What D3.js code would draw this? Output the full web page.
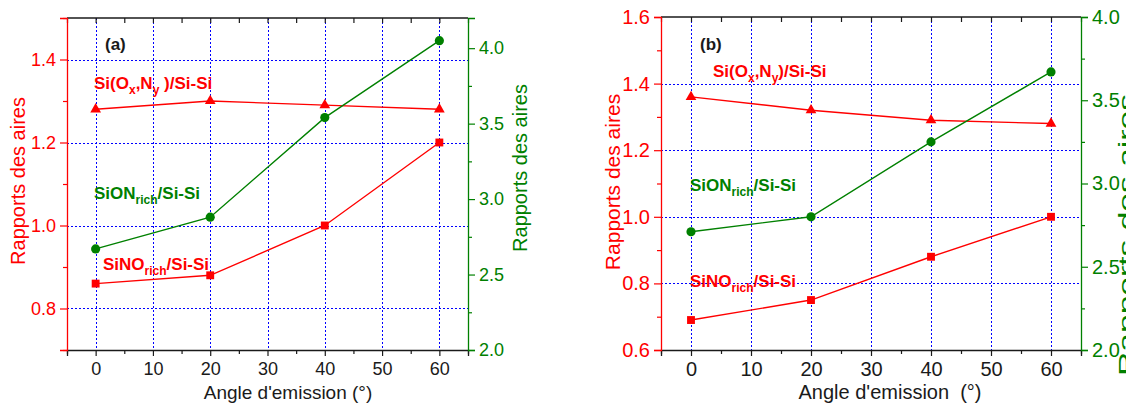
<!DOCTYPE html>
<html><head><meta charset="utf-8">
<script src="https://cdn.jsdelivr.net/npm/d3@7"></script>
<style>
body{margin:0;background:#fff}
svg{display:block;font-family:"Liberation Sans",Arial,Helvetica,sans-serif}
</style>
</head><body>
<svg id="chart" width="1126" height="403"></svg>
<script>
// ---------- data ----------
const angles = [0, 20, 40, 60];
const aSiOxNy   = [1.28, 1.30, 1.29, 1.28];
const aSiNOrich = [0.86, 0.88, 1.00, 1.20];
const aSiONrich = [2.67, 2.88, 3.54, 4.05];
const bSiOxNy   = [1.36, 1.32, 1.29, 1.28];
const bSiNOrich = [0.69, 0.75, 0.88, 1.00];
const bSiONrich = [2.71, 2.80, 3.25, 3.67];
const xTicks = [0, 10, 20, 30, 40, 50, 60];
const xMinor = [-5, 5, 15, 25, 35, 45, 55, 65];
const aLeftTicks  = [0.8, 1.0, 1.2, 1.4];
const aLeftMinor  = [0.7, 0.9, 1.1, 1.3, 1.5];
const aRightTicks = [2.0, 2.5, 3.0, 3.5, 4.0];
const aRightMinor = [2.25, 2.75, 3.25, 3.75];
const bLeftTicks  = [0.6, 0.8, 1.0, 1.2, 1.4, 1.6];
const bLeftMinor  = [0.7, 0.9, 1.1, 1.3, 1.5];
const bRightTicks = [2.0, 2.5, 3.0, 3.5, 4.0];
const bRightMinor = [2.25, 2.75, 3.25, 3.75];

const RED = "#ff0000", GREEN = "#008000", BLUE = "#0000ff", BLACK = "#1a1a1a";
const svg = d3.select("#chart");

const panels = [
  { left: 67, right: 468, top: 18, bottom: 350,
    xDom: [-5, 65], yLDom: [0.7, 1.5], yRDom: [2.0, 4.2],
    lTicks: aLeftTicks, lMinor: aLeftMinor, rTicks: aRightTicks, rMinor: aRightMinor,
    tri: aSiOxNy, sq: aSiNOrich, circ: aSiONrich,
    tickFont: 18, titleFont: 19, yTitleFont: 20,
    xTitle: "Angle d'emission (°)", xTitleX: 288, xTitleY: 399,
    lTitleX: 25, lTitleY: 181, rTitleX: 527, rTitleY: 168, rTitleFont: 20, rTitleLen: null,
    tag: "(a)", tagX: 105, tagY: 50,
    lab1: {x: 94, y: 89, parts: [["Si(O",0],["x",1],[",N",0],["y",1],[" )/Si-Si",0]], c: RED},
    lab2: {x: 94, y: 199, parts: [["SiON",0],["rich",1],["/Si-Si",0]], c: GREEN},
    lab3: {x: 103, y: 270, parts: [["SiNO",0],["rich",1],["/Si-Si",0]], c: RED}
  },
  { left: 661, right: 1081, top: 17, bottom: 350,
    xDom: [-5, 65], yLDom: [0.6, 1.6], yRDom: [2.0, 4.0],
    lTicks: bLeftTicks, lMinor: bLeftMinor, rTicks: bRightTicks, rMinor: bRightMinor,
    tri: bSiOxNy, sq: bSiNOrich, circ: bSiONrich,
    tickFont: 20, titleFont: 20, yTitleFont: 21,
    xTitle: "Angle d'emission  (°)", xTitleX: 890, xTitleY: 399,
    lTitleX: 620, lTitleY: 182, rTitleX: 1134, rTitleY: 235, rTitleFont: 22, rTitleLen: 282,
    tag: "(b)", tagX: 700, tagY: 50,
    lab1: {x: 713, y: 77, parts: [["Si(O",0],["x",1],[",N",0],["y",1],[")/Si-Si",0]], c: RED},
    lab2: {x: 690, y: 191, parts: [["SiON",0],["rich",1],["/Si-Si",0]], c: GREEN},
    lab3: {x: 690, y: 287, parts: [["SiNO",0],["rich",1],["/Si-Si",0]], c: RED}
  }
];

function styleAxis(g, color, font) {
  g.select(".domain").attr("stroke", color).attr("stroke-width", 1.3);
  g.selectAll(".tick line").attr("stroke", color).attr("stroke-width", 1.2);
  g.selectAll(".tick text").attr("fill", color).style("font-size", font + "px")
    .style("font-family", '"Liberation Sans",Arial,sans-serif');
}

function label(g, L) {
  const t = g.append("text").attr("x", L.x).attr("y", L.y).attr("fill", L.c)
    .style("font-weight", "bold").style("font-size", "17px");
  let sub = false;
  L.parts.forEach(([s, isSub]) => {
    const ts = t.append("tspan").text(s);
    if (isSub && !sub) { ts.attr("dy", 5).style("font-size", "12px"); sub = true; }
    else if (isSub && sub) { ts.style("font-size", "12px"); }
    else if (!isSub && sub) { ts.attr("dy", -5); sub = false; }
  });
}

const px = v => Math.round(v) + 0.5;

panels.forEach(P => {
  const g = svg.append("g");
  const x = d3.scaleLinear().domain(P.xDom).range([P.left, P.right]);
  const yL = d3.scaleLinear().domain(P.yLDom).range([P.bottom, P.top]);
  const yR = d3.scaleLinear().domain(P.yRDom).range([P.bottom, P.top]);

  // grid
  const grid = g.append("g").attr("stroke", BLUE).attr("stroke-width", 1)
    .attr("stroke-dasharray", "2,2");
  grid.selectAll("line.v").data(xTicks).join("line")
    .attr("x1", d => px(x(d))).attr("x2", d => px(x(d))).attr("y1", P.top).attr("y2", P.bottom);
  grid.selectAll("line.h").data(P.lTicks.filter(d => d > P.yLDom[0] && d < P.yLDom[1])).join("line")
    .attr("x1", P.left).attr("x2", P.right).attr("y1", d => px(yL(d))).attr("y2", d => px(yL(d)));

  // bottom axis
  const gb = g.append("g").attr("transform", `translate(0,${P.bottom})`)
    .call(d3.axisBottom(x).tickValues(xTicks).tickSize(6).tickPadding(6).tickFormat(d3.format("d")));
  styleAxis(gb, BLACK, P.tickFont);
  const gbm = g.append("g").attr("transform", `translate(0,${P.bottom})`)
    .call(d3.axisBottom(x).tickValues(xMinor).tickSize(4).tickFormat(""));
  styleAxis(gbm, BLACK, P.tickFont); gbm.select(".domain").remove();

  // top axis (inward ticks)
  const gt = g.append("g").attr("transform", `translate(0,${P.top})`)
    .call(d3.axisBottom(x).tickValues(xTicks.concat(xMinor)).tickSize(5).tickFormat(""));
  styleAxis(gt, BLACK, P.tickFont);
  gt.select(".domain").attr("d", `M${P.left},0H${P.right}`);

  // left axis
  const gl = g.append("g").attr("transform", `translate(${P.left},0)`)
    .call(d3.axisLeft(yL).tickValues(P.lTicks).tickSize(7).tickPadding(4).tickFormat(d3.format(".1f")));
  styleAxis(gl, RED, P.tickFont);
  const glm = g.append("g").attr("transform", `translate(${P.left},0)`)
    .call(d3.axisLeft(yL).tickValues(P.lMinor).tickSize(4).tickFormat(""));
  styleAxis(glm, RED, P.tickFont); glm.select(".domain").remove();

  // right axis
  const gr = g.append("g").attr("transform", `translate(${P.right},0)`)
    .call(d3.axisRight(yR).tickValues(P.rTicks).tickSize(7).tickPadding(4).tickFormat(d3.format(".1f")));
  styleAxis(gr, GREEN, P.tickFont);
  const grm = g.append("g").attr("transform", `translate(${P.right},0)`)
    .call(d3.axisRight(yR).tickValues(P.rMinor).tickSize(4).tickFormat(""));
  styleAxis(grm, GREEN, P.tickFont); grm.select(".domain").remove();

  // series
  const series = [
    { vals: P.tri, y: yL, color: RED, sym: d3.symbolTriangle, size: 50 },
    { vals: P.sq, y: yL, color: RED, sym: d3.symbolSquare, size: 62 },
    { vals: P.circ, y: yR, color: GREEN, sym: d3.symbolCircle, size: 66 }
  ];
  series.forEach(S => {
    const pts = angles.map((a, i) => [a, S.vals[i]]);
    g.append("path").datum(pts).attr("fill", "none").attr("stroke", S.color)
      .attr("stroke-width", 1.4)
      .attr("d", d3.line().x(d => x(d[0])).y(d => S.y(d[1])));
    g.selectAll(null).data(pts).join("path")
      .attr("transform", d => `translate(${x(d[0])},${S.y(d[1])})`)
      .attr("d", d3.symbol(S.sym, S.size)).attr("fill", S.color);
  });

  // titles
  g.append("text").attr("x", P.xTitleX).attr("y", P.xTitleY)
    .attr("text-anchor", "middle").attr("fill", BLACK).style("font-size", P.titleFont + "px")
    .style("white-space", "pre").text(P.xTitle);
  g.append("text").attr("transform", `translate(${P.lTitleX},${P.lTitleY}) rotate(-90)`)
    .attr("text-anchor", "middle").attr("fill", RED).style("font-size", P.yTitleFont + "px")
    .text("Rapports des aires");
  const rt = g.append("text").attr("transform", `translate(${P.rTitleX},${P.rTitleY}) rotate(-90)`)
    .attr("text-anchor", "middle").attr("fill", GREEN).style("font-size", P.rTitleFont + "px")
    .text("Rapports des aires");
  if (P.rTitleLen) rt.attr("textLength", P.rTitleLen).attr("lengthAdjust", "spacingAndGlyphs");

  g.append("text").attr("x", P.tagX).attr("y", P.tagY).attr("fill", BLACK)
    .style("font-weight", "bold").style("font-size", "17px").text(P.tag);
  label(g, P.lab1); label(g, P.lab2); label(g, P.lab3);
});
</script>
</body></html>
